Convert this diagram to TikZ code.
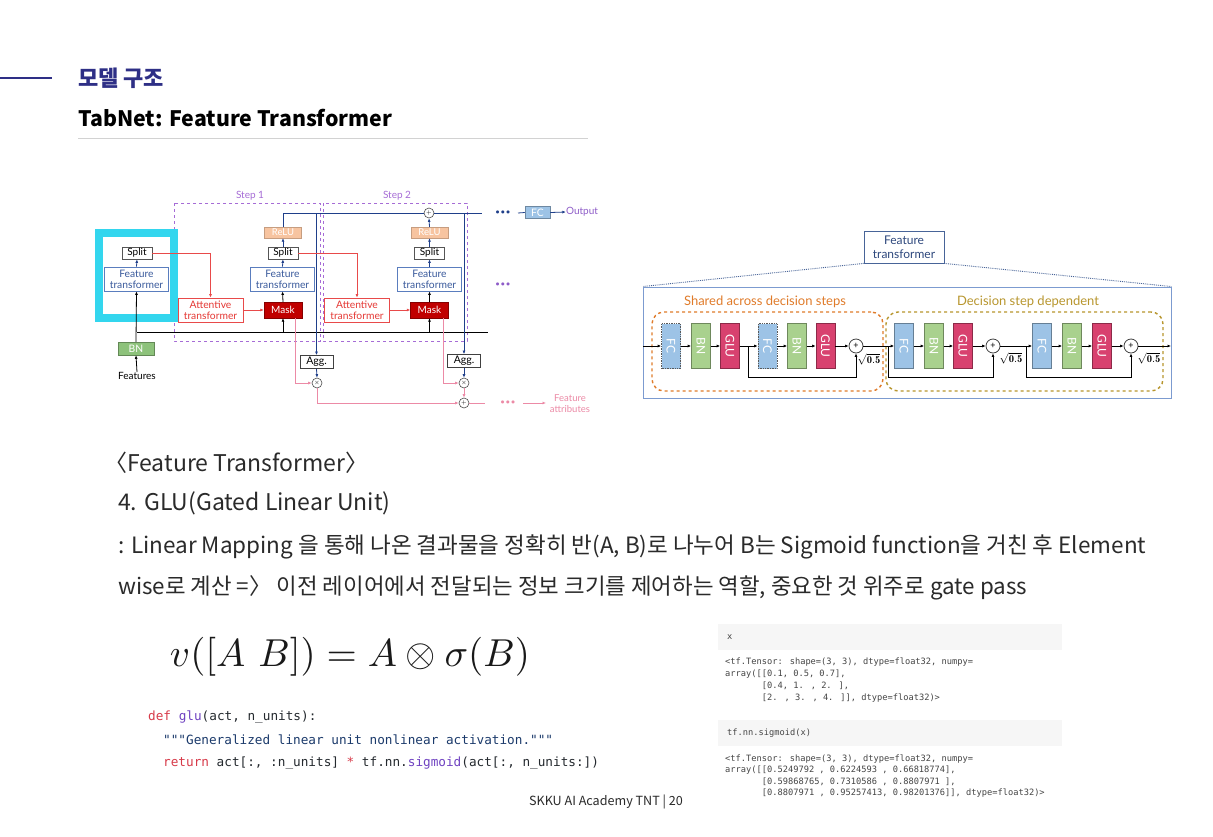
\documentclass[tikz,border=0pt]{standalone}
\usepackage{fontspec}
\usepackage{graphicx}
\usetikzlibrary{arrows.meta,calc}
\newfontfamily\kr{Noto Sans CJK KR}
\newfontfamily\lato{Lato}
\newfontfamily\mono{DejaVu Sans Mono}

\definecolor{titlec}{HTML}{2E2F86}
\definecolor{rulegray}{HTML}{D2D2D2}
\definecolor{bodyc}{HTML}{2A2A2A}
\definecolor{navyln}{HTML}{1F3F8A}
\definecolor{ftblue}{HTML}{5A7DBE}
\definecolor{fttext}{HTML}{3A5A9C}
\definecolor{splitgray}{HTML}{555555}
\definecolor{stepc}{HTML}{A66CD6}
\definecolor{cyanc}{HTML}{33D6EE}
\definecolor{redln}{HTML}{E84A4A}
\definecolor{redtext}{HTML}{E53935}
\definecolor{maskred}{HTML}{C00000}
\definecolor{relupeach}{HTML}{F7C4A0}
\definecolor{pinkln}{HTML}{EC8AA6}
\definecolor{bngreen}{HTML}{8DC27B}
\definecolor{fcblue}{HTML}{9DC3E6}
\definecolor{bngreen2}{HTML}{A9D18E}
\definecolor{glured}{HTML}{D8416F}
\definecolor{orangec}{HTML}{E07B2A}
\definecolor{olivec}{HTML}{B8962E}
\definecolor{bigc}{HTML}{7C9BD0}
\definecolor{outpurple}{HTML}{8E5CC8}
\definecolor{codebg}{HTML}{F6F6F6}
\definecolor{codetxt}{HTML}{444444}
\definecolor{kwred}{HTML}{D73A49}
\definecolor{fnpurple}{HTML}{6F42C1}
\definecolor{strc}{HTML}{1B3A6B}
\definecolor{plain}{HTML}{24292E}

\tikzset{
  lf/.style={font=\lato\fontsize{10.3}{11}\selectfont, inner sep=0pt, align=center},
  splitbox/.style={lf, draw=splitgray, line width=0.8pt, fill=white, minimum width=30pt, minimum height=12pt, font=\lato\fontsize{10}{10}\selectfont},
  ftbox/.style={lf, draw=ftblue, line width=0.8pt, fill=white, text=fttext, minimum width=64pt, minimum height=24pt},
  attbox/.style={lf, draw=redln, line width=0.8pt, fill=white, text=redtext, minimum width=65pt, minimum height=24pt},
  maskbox/.style={lf, draw=maskred!70!black, fill=maskred, text=white, minimum width=38pt, minimum height=16pt, font=\lato\fontsize{10}{10}\selectfont},
  relubox/.style={lf, fill=relupeach, draw=relupeach!80!black, line width=0.4pt, text=white, minimum width=37pt, minimum height=11pt, font=\lato\fontsize{9.5}{10}\selectfont},
  aggbox/.style={lf, draw=black!75, line width=0.8pt, fill=white, minimum width=33pt, minimum height=13pt, font=\lato\fontsize{10.5}{11}\selectfont},
  bnbox/.style={lf, draw=bngreen!70!black, line width=0.5pt, fill=bngreen, text=white, minimum width=36pt, minimum height=13pt},
  fcbox/.style={lf, draw=fcblue!70!black, line width=0.5pt, fill=fcblue, text=white, minimum width=25pt, minimum height=12pt},
  opc/.style={circle, draw=black!70, line width=0.6pt, fill=white, minimum size=10pt, inner sep=0pt, font=\fontsize{6}{6}\selectfont},
  steplbl/.style={font=\lato\fontsize{10}{11}\selectfont, text=stepc, inner sep=0pt},
  dotsn/.style={inner sep=0pt, font=\lato\bfseries\fontsize{7}{7}\selectfont},
  larr/.style={-{Latex[length=3.5pt,width=3pt]}, line width=0.8pt},
  lline/.style={line width=0.8pt},
  blk/.style={minimum width=19pt, minimum height=45pt, inner sep=0pt, line width=0.7pt, text=white, font=\lato\fontsize{12}{12}\selectfont},
  fcs/.style={blk, fill=fcblue, draw=black!65, densely dotted},
  fcd/.style={blk, fill=fcblue, draw=fcblue!65!black},
  bnb/.style={blk, fill=bngreen2, draw=bngreen2!65!black},
  glub/.style={blk, fill=glured, draw=glured!65!black},
  sumc/.style={circle, draw=black!75, line width=0.8pt, fill=white, minimum size=14pt, inner sep=0pt, font=\lato\fontsize{9}{9}\selectfont},
  rarr/.style={-{Latex[length=3.5pt,width=3pt]}, line width=0.9pt},
  sq/.style={inner sep=0pt, font=\fontsize{10.5}{10.5}\selectfont},
  body/.style={anchor=west, inner sep=0pt, text=bodyc, font=\kr\fontsize{23}{26}\selectfont},
  outl/.style={anchor=west, inner sep=0pt, text=codetxt, font=\mono\fontsize{8.7}{10}\selectfont},
  codel/.style={anchor=west, inner sep=0pt, text=plain, font=\mono\fontsize{12.7}{14}\selectfont},
}

\begin{document}
\begin{tikzpicture}[x=1pt,y=-1pt]
\useasboundingbox (0,0) rectangle (1213,836);
\fill[white] (0,0) rectangle (1213,836);

% ---------- heading ----------
\draw[titlec, line width=1.4pt] (0,78) -- (52,78);
\node[anchor=west, inner sep=0pt, text=titlec, font=\kr\bfseries\fontsize{22}{24}\selectfont] (sec) at (78,78) {모델 구조};
\node[anchor=west, inner sep=0pt, text=black, font=\kr\bfseries\fontsize{21.3}{24}\selectfont] (ttl) at (78,118) {TabNet: Feature Transformer};
\draw[rulegray, line width=1pt] (78,138) -- (588,138);

% ---------- TabNet encoder ----------
\draw[stepc, dashed, line width=0.8pt] (174,203) rectangle (320,341);
\draw[stepc, dashed, line width=0.8pt] (323,203) rectangle (467,341);
\node[steplbl] (s1) at (250,196) {Step 1};
\node[steplbl] (s2) at (397,196) {Step 2};

% initial feature transformer frame
\draw[cyanc, line width=8pt] (99,233) rectangle (174,318);

\node[splitbox] (split0) at (137,253) {Split};
\node[ftbox] (ft0) at (136.5,279) {Feature\\transformer};
\node[bnbox] (bn) at (136,348.5) {BN};
\node[lf, font=\lato\fontsize{10}{10}\selectfont] (feat) at (137,376) {Features};

\node[attbox] (att1) at (210.5,310) {Attentive\\transformer};
\node[maskbox] (mask1) at (283,310) {Mask};
\node[ftbox] (ft1) at (282.5,279) {Feature\\transformer};
\node[splitbox] (split1) at (283,253) {Split};
\node[relubox] (relu1) at (283,232.5) {ReLU};
\node[aggbox] (agg1) at (316.5,362) {Agg.};
\node[opc] (mul1) at (317,383) {$\times$};

\node[attbox] (att2) at (357,310) {Attentive\\transformer};
\node[maskbox] (mask2) at (429.5,310) {Mask};
\node[ftbox] (ft2) at (429.5,279) {Feature\\transformer};
\node[splitbox] (split2) at (429.5,253) {Split};
\node[relubox] (relu2) at (429.5,232.5) {ReLU};
\node[opc] (plus2) at (429,213) {+};
\node[aggbox] (agg2) at (464,361) {Agg.};
\node[opc] (mul2) at (464,383) {$\times$};
\node[opc] (plus3) at (464,403) {+};

\node[fcbox] (fc) at (537.5,212.5) {FC};
\node[lf, text=outpurple, font=\lato\fontsize{10}{11}\selectfont] (outp) at (582,212) {Output};
\node[dotsn, text=navyln] (dn) at (503,213) {\textbullet\,\textbullet\,\textbullet};
\node[dotsn, text=outpurple] (dp) at (503,285) {\textbullet\,\textbullet\,\textbullet};
\node[dotsn, text=pinkln] (dk) at (508,403) {\textbullet\,\textbullet\,\textbullet};
\node[lf, text=pinkln, font=\lato\fontsize{9.5}{11}\selectfont] (fattr) at (570,404) {Feature\\attributes};

\coordinate (bus0) at (137,332);
\coordinate (bus1) at (488,332);
\coordinate (topend) at (482,213);
\coordinate (pinkend) at (485,403);
\coordinate (fa0) at (523,403);
\coordinate (fa1) at (546,403);
\coordinate (fcin) at (518,213);

% black bus and vertical feeds
\draw[lline] (bus0) -- (bus1);
\draw[larr] (feat.north) -- (bn.south);
\draw[larr] (bn.north) -- (ft0.south);
\draw[larr, navyln] (ft0.north) -- (split0.south);
\draw[larr] (mask1.south |- bus0) -- (mask1.south);
\draw[larr] (mask2.south |- bus0) -- (mask2.south);
\draw[larr] (mask1.north) -- (ft1.south);
\draw[larr] (mask2.north) -- (ft2.south);
\draw[larr, navyln] (ft1.north) -- (split1.south);
\draw[larr, navyln] (ft2.north) -- (split2.south);
\draw[larr, navyln] (split1.north) -- (relu1.south);
\draw[larr, navyln] (split2.north) -- (relu2.south);
\draw[larr, navyln] (relu2.north) -- (plus2.south);

% decision output path
\draw[lline, navyln] (relu1.north) |- (plus2.west);
\draw[lline, navyln] (plus2.east) -- (topend);
\draw[larr, navyln] (agg1.north |- plus2) -- (agg1.north);
\draw[larr, navyln] (agg2.north |- plus2) -- (agg2.north);
\draw[larr, navyln] (agg1.south) -- (mul1.north);
\draw[larr, navyln] (agg2.south) -- (mul2.north);
\draw[lline, navyln] (fcin) -- (fc.west);
\draw[larr, navyln] (fc.east) -- (outp.west);

% attentive path
\draw[larr, redln] (split0.east) -| (att1.north);
\draw[larr, redln] (split1.east) -| (att2.north);
\draw[larr, redln] (att1.east) -- (mask1.west);
\draw[larr, redln] (att2.east) -- (mask2.west);

% feature attribution path
\draw[larr, pinkln, line width=0.7pt] ([xshift=12pt]mask1.south) |- (mul1.west);
\draw[larr, pinkln, line width=0.7pt] ([xshift=13.5pt]mask2.south) |- (mul2.west);
\draw[larr, pinkln, line width=0.7pt] (mul1.south) |- (plus3.west);
\draw[larr, pinkln, line width=0.7pt] (mul2.south) -- (plus3.north);
\draw[pinkln, line width=0.7pt] (plus3.east) -- (pinkend);
\draw[larr, pinkln, line width=0.7pt] (fa0) -- (fa1);

% ---------- feature transformer detail ----------
\node[draw=ftblue!80!black, line width=0.8pt, minimum width=80pt, minimum height=32pt, inner sep=0pt, align=center, text=fttext!80!black, font=\lato\fontsize{12}{14}\selectfont] (ftbig) at (904,247) {Feature\\transformer};
\node[draw=bigc, line width=0.9pt, minimum width=528pt, minimum height=111pt, inner sep=0pt] (big) at (907,342.5) {};
\draw[ftblue!80!black, densely dotted, line width=0.9pt] (ftbig.south west) -- (big.north west);
\draw[ftblue!80!black, densely dotted, line width=0.9pt] (ftbig.south east) -- (big.north east);

\node[draw=orangec, dashed, line width=1.4pt, rounded corners=12pt, minimum width=231pt, minimum height=79pt, inner sep=0pt] (shared) at (767.5,351.5) {};
\node[draw=olivec, dashed, line width=1.4pt, rounded corners=12pt, minimum width=277pt, minimum height=79pt, inner sep=0pt] (dep) at (1024.5,351.5) {};
\node[inner sep=0pt, text=orangec, font=\lato\fontsize{13}{13}\selectfont] (sharedlbl) at (765,302) {Shared across decision steps};
\node[inner sep=0pt, text=olivec, font=\lato\fontsize{13}{13}\selectfont] (deplbl) at (1028,302) {Decision step dependent};

\node[fcs] (fcA) at (671,346) {\rotatebox{-90}{FC}};
\node[bnb] (bnA) at (701,346) {\rotatebox{-90}{BN}};
\node[glub] (gluA) at (730,346) {\rotatebox{-90}{GLU}};
\node[fcs] (fcB) at (767.5,346) {\rotatebox{-90}{FC}};
\node[bnb] (bnB) at (797,346) {\rotatebox{-90}{BN}};
\node[glub] (gluB) at (825.5,346) {\rotatebox{-90}{GLU}};
\node[sumc] (plusA) at (856,346) {+};
\node[fcd] (fcC) at (904,346) {\rotatebox{-90}{FC}};
\node[bnb] (bnC) at (934,346) {\rotatebox{-90}{BN}};
\node[glub] (gluC) at (963,346) {\rotatebox{-90}{GLU}};
\node[sumc] (plusB) at (993,346) {+};
\node[fcd] (fcD) at (1042,346) {\rotatebox{-90}{FC}};
\node[bnb] (bnD) at (1072,346) {\rotatebox{-90}{BN}};
\node[glub] (gluD) at (1102,346) {\rotatebox{-90}{GLU}};
\node[sumc] (plusC) at (1131,346) {+};

\coordinate (rin) at (643,346);
\coordinate (rout) at (1171,346);
\coordinate (sA) at (748,346);  \coordinate (sAd) at (748,377);
\coordinate (sB) at (888,346);  \coordinate (sBd) at (888,377);
\coordinate (sC) at (1026,346); \coordinate (sCd) at (1026,377);

\draw[rarr] (rin) -- (fcA.west);
\draw[rarr] (fcA.east) -- (bnA.west);
\draw[rarr] (bnA.east) -- (gluA.west);
\draw[rarr] (gluA.east) -- (fcB.west);
\draw[rarr] (fcB.east) -- (bnB.west);
\draw[rarr] (bnB.east) -- (gluB.west);
\draw[rarr] (gluB.east) -- (plusA.west);
\draw[rarr] (plusA.east) -- (fcC.west);
\draw[rarr] (fcC.east) -- (bnC.west);
\draw[rarr] (bnC.east) -- (gluC.west);
\draw[rarr] (gluC.east) -- (plusB.west);
\draw[rarr] (plusB.east) -- (fcD.west);
\draw[rarr] (fcD.east) -- (bnD.west);
\draw[rarr] (bnD.east) -- (gluD.west);
\draw[rarr] (gluD.east) -- (plusC.west);
\draw[rarr] (plusC.east) -- (rout);
\draw[rarr] (sA) -- (sAd) -| (plusA.south);
\draw[rarr] (sB) -- (sBd) -| (plusB.south);
\draw[rarr] (sC) -- (sCd) -| (plusC.south);
\node[sq] (qA) at (869,359) {$\sqrt{\mathbf{0.5}}$};
\node[sq] (qB) at (1011,358) {$\sqrt{\mathbf{0.5}}$};
\node[sq] (qC) at (1149,358) {$\sqrt{\mathbf{0.5}}$};

% ---------- text ----------
\node[body] (t1) at (104,463) {〈Feature Transformer〉};
\node[body] (t2) at (118,503) {4. GLU(Gated Linear Unit)};
\node[body] (t3) at (118,547) {\resizebox{1028pt}{!}{: Linear Mapping 을 통해 나온 결과물을 정확히 반(A, B)로 나누어 B는 Sigmoid function을 거친 후 Element}};
\node[body] (t4) at (118,588) {\resizebox{909pt}{!}{wise로 계산 =〉 이전 레이어에서 전달되는 정보 크기를 제어하는 역할, 중요한 것 위주로 gate pass}};

% ---------- GLU formula and code ----------
\node[inner sep=0pt, text=black!90] (eq) at (350,657) {\resizebox{360pt}{!}{$v([A\ B]) = A\otimes\sigma(B)$}};
\node[codel] (c1) at (148,717) {\textcolor{kwred}{def} \textcolor{fnpurple}{glu}(act, n\_units):};
\node[codel, text=strc] (c2) at (163,740) {"""Generalized linear unit nonlinear activation."""};
\node[codel] (c3) at (163,763) {\textcolor{kwred}{return} act[:, :n\_units] \textcolor{kwred}{*} tf.nn.\textcolor{fnpurple}{sigmoid}(act[:, n\_units:])};

% ---------- notebook cells ----------
\node[fill=codebg, minimum width=344pt, minimum height=26pt, inner sep=0pt, anchor=north west] (cell1) at (718,624) {};
\node[outl] (x1) at (727,637) {x};
\node[outl] (o11) at (725,662) {<tf.Tensor: shape=(3, 3), dtype=float32, numpy=};
\node[outl] (o12) at (725,674) {array([[0.1, 0.5, 0.7],};
\node[outl] (o13) at (761.7,686) {[0.4, 1. , 2. ],};
\node[outl] (o14) at (761.7,698) {[2. , 3. , 4. ]], dtype=float32)>};

\node[fill=codebg, minimum width=344pt, minimum height=26pt, inner sep=0pt, anchor=north west] (cell2) at (718,720) {};
\node[outl] (x2) at (727,733) {tf.nn.sigmoid(x)};
\node[outl] (o21) at (725,759) {<tf.Tensor: shape=(3, 3), dtype=float32, numpy=};
\node[outl] (o22) at (725,770.5) {array([[0.5249792 , 0.6224593 , 0.66818774],};
\node[outl] (o23) at (761.7,782) {[0.59868765, 0.7310586 , 0.8807971 ],};
\node[outl] (o24) at (761.7,793.5) {[0.8807971 , 0.95257413, 0.98201376]], dtype=float32)>};

% ---------- footer ----------
\node[inner sep=0pt, text=bodyc, font=\kr\fontsize{12.6}{12.6}\selectfont] (foot) at (606,802) {SKKU AI Academy TNT | 20};
\end{tikzpicture}
\end{document}
